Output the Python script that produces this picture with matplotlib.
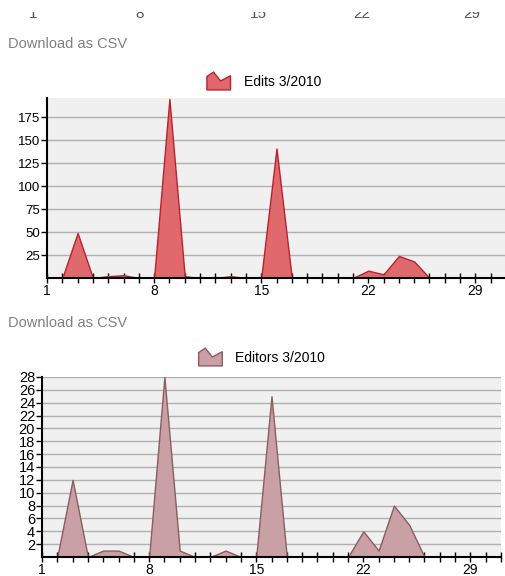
import numpy as np
import matplotlib
matplotlib.use("Agg")
import matplotlib.pyplot as plt
from matplotlib.legend_handler import HandlerBase
from matplotlib.patches import Polygon, Rectangle

plt.rcParams['font.family'] = ['Liberation Sans', 'DejaVu Sans']

days = list(range(1, 32))
edits = [0, 0, 49, 0, 2, 3, 0, 0, 195, 2, 0, 0, 2, 0, 0, 141,
         0, 0, 0, 0, 0, 8, 4, 24, 18, 0, 0, 0, 0, 0, 0]
editors = [0, 0, 12, 0, 1, 1, 0, 0, 28, 1, 0, 0, 1, 0, 0, 25,
           0, 0, 0, 0, 0, 4, 1, 8, 5, 0, 0, 0, 0, 0, 0]
day_labels = [1, 8, 15, 22, 29]
edit_ticks = [25, 50, 75, 100, 125, 150, 175]
editor_ticks = list(range(2, 29, 2))


class AreaIcon(HandlerBase):
    # small "area chart" glyph used as legend key
    shape = [(0, 0), (0, 0.75), (0.28, 1.0), (0.58, 0.5), (1, 0.8), (1, 0)]

    def create_artists(self, legend, orig, xd, yd, w, h, fontsize, trans):
        pts = [(-xd + x * w, -yd + y * h) for x, y in self.shape]
        p = Polygon(pts, closed=True, facecolor=orig.get_facecolor()[0],
                    edgecolor=orig.get_edgecolor()[0], lw=1, transform=trans)
        return [p]


W, H = 505, 576
fig = plt.figure(figsize=(W / 100, H / 100), dpi=100)


def px(x0, y0, x1, y1):
    return [x0 / W, 1 - y1 / H, (x1 - x0) / W, (y1 - y0) / H]


# remnants of the chart above, only their lower part shows
for d, xp in zip(day_labels, [33, 140, 258, 362, 472]):
    fig.text(xp / W, 1 - 18 / H, str(d), ha='center', va='baseline',
             fontsize=11, color='#555555')
fig.patches.append(Rectangle((0, 1 - 12 / H), 1, 12 / H, facecolor='white',
                             edgecolor='none', transform=fig.transFigure,
                             zorder=10))

for yp in [44, 323]:
    fig.text(8 / W, 1 - yp / H, 'Download as CSV', ha='left', va='center',
             fontsize=10.5, color='#808080')


def panel(rect, vals, ticks, ymax, face, edge, label, leg_xy, ylab_size):
    ax = fig.add_axes(rect)
    ax.set_facecolor('#f0f0f0')
    poly = ax.fill_between(days, vals, 0, facecolor=face, edgecolor=edge,
                           lw=1, zorder=3, label=label)
    ax.set_xlim(1, 31)
    ax.set_ylim(0, ymax)
    ax.set_yticks(ticks)
    ax.set_yticklabels([str(t) for t in ticks], fontsize=ylab_size)
    ax.set_xticks(days)
    ax.set_xticklabels([str(d) if d in day_labels else '' for d in days],
                       fontsize=10)
    ax.yaxis.grid(True, color='#b0b0b0', lw=1)
    ax.set_axisbelow(True)
    ax.tick_params(axis='x', direction='inout', length=7, width=1, pad=0.5)
    ax.tick_params(axis='y', direction='out', length=4, width=1, pad=1)
    for s in ['top', 'right']:
        ax.spines[s].set_visible(False)
    for s in ['left', 'bottom']:
        ax.spines[s].set_linewidth(1.5)
        ax.spines[s].set_zorder(4)
    fig.legend(handles=[poly], labels=[label], handler_map={poly: AreaIcon()},
               loc='center', bbox_to_anchor=(leg_xy[0] / W, 1 - leg_xy[1] / H),
               bbox_transform=fig.transFigure, frameon=False, fontsize=10,
               handlelength=1.7, handleheight=1.6, handletextpad=0.95,
               borderpad=0)
    return ax


panel(px(47, 98, 506, 278), edits, edit_ticks, 196, '#e0696d', '#b8222e',
      'Edits 3/2010', (264, 81), 9.5)
panel(px(42, 377, 501, 557), editors, editor_ticks, 28, '#c9a0a4', '#8c5c62',
      'Editors 3/2010', (262, 357), 10.5)

plt.savefig('out.png', dpi=100)
